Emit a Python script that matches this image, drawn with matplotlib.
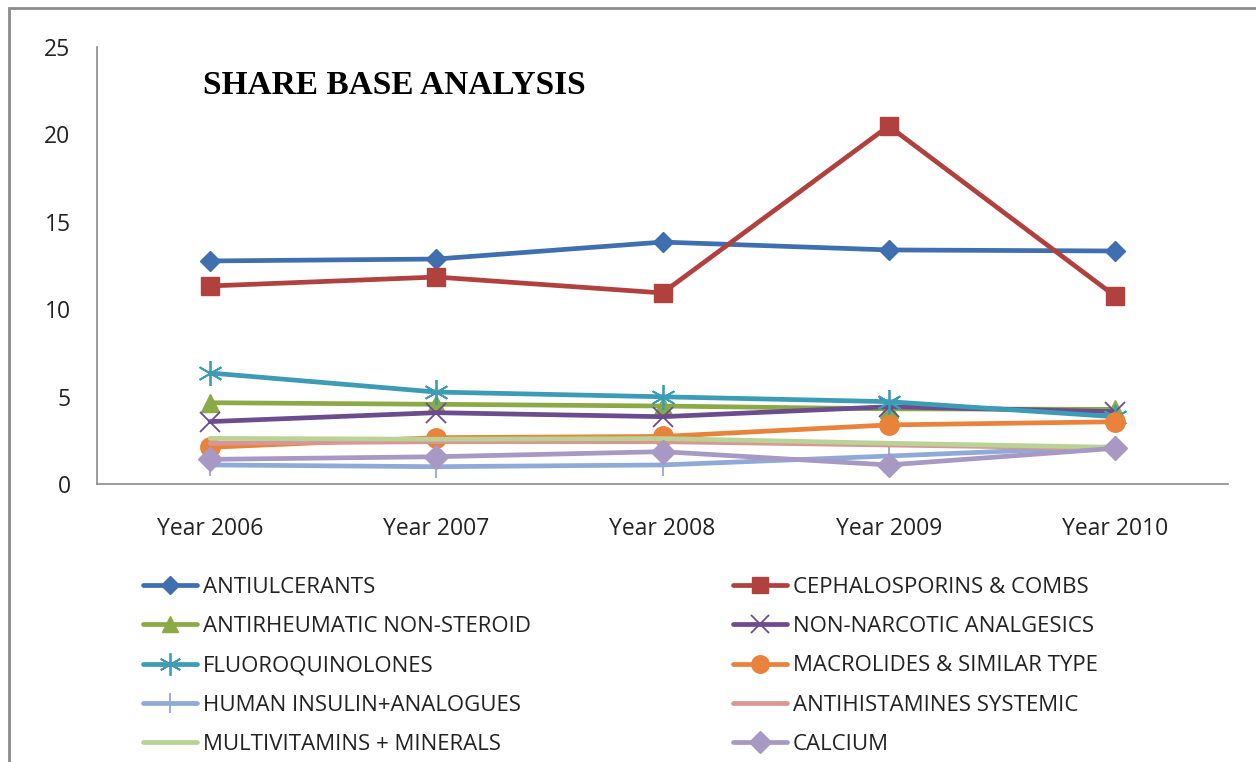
import matplotlib.pyplot as plt
import matplotlib.patches as mpatches
from matplotlib.lines import Line2D

years = ['Year 2006', 'Year 2007', 'Year 2008', 'Year 2009', 'Year 2010']

antiulcerants = [12.76, 12.87, 13.84, 13.39, 13.33]
cephalosporins = [11.33, 11.84, 10.93, 20.48, 10.76]
antirheumatic = [4.65, 4.56, 4.46, 4.30, 4.27]
non_narcotic = [3.57, 4.08, 3.85, 4.42, 4.14]
fluoroquinolones = [6.35, 5.26, 4.99, 4.71, 3.85]
macrolides = [2.10, 2.65, 2.72, 3.38, 3.56]
insulin = [1.09, 0.99, 1.09, 1.60, 2.13]
antihistamines = [2.33, 2.42, 2.42, 2.23, 2.04]
multivitamins = [2.61, 2.56, 2.60, 2.33, 2.10]
calcium = [1.41, 1.56, 1.85, 1.09, 2.04]

names = ['ANTIULCERANTS', 'CEPHALOSPORINS & COMBS', 'ANTIRHEUMATIC NON-STEROID',
         'NON-NARCOTIC ANALGESICS', 'FLUOROQUINOLONES', 'MACROLIDES & SIMILAR TYPE',
         'HUMAN INSULIN+ANALOGUES', 'ANTIHISTAMINES SYSTEMIC',
         'MULTIVITAMINS + MINERALS', 'CALCIUM']
series = [antiulcerants, cephalosporins, antirheumatic, non_narcotic, fluoroquinolones,
          macrolides, insulin, antihistamines, multivitamins, calcium]

# style per series: colour, marker, marker size, marker edge width
styles = [
    ('#3F6FAF', 'D', 10, 1),
    ('#B0413E', 's', 13, 1),
    ('#8BAA45', '^', 13, 1),
    ('#6A4C8F', 'x', 14, 1.3),
    ('#3C9BB5', (6, 2, 0), 18, 1.3),
    ('#E9823A', 'o', 14, 1),
    ('#8FAAD6', '|', 16, 1.3),
    ('#D99694', None, 0, 1),
    ('#B9D295', None, 0, 1),
    ('#A898C4', 'D', 12, 1),
]

plt.rcParams['font.family'] = ['Open Sans', 'DejaVu Sans']

fig = plt.figure(figsize=(12.56, 7.62), dpi=100)
ax = fig.add_axes([97 / 1256, 1 - 484 / 762, (1228 - 97) / 1256, (484 - 47) / 762])

x = range(len(years))
handles = []
for name, vals, (col, mk, ms, mew) in zip(names, series, styles):
    line, = ax.plot(x, vals, color=col, lw=3.4, marker=mk, markersize=ms,
                    markeredgewidth=mew, markerfacecolor=col, markeredgecolor=col,
                    solid_capstyle='round', label=name)
    handles.append(line)

ax.set_xlim(-0.5, len(years) - 0.5)
ax.set_ylim(0, 25)
ax.set_yticks([0, 5, 10, 15, 20, 25])
ax.set_xticks(list(x))
ax.set_xticklabels(years)
ax.tick_params(length=0, labelsize=16.5, colors='#222222')
ax.tick_params(axis='y', pad=19)
ax.tick_params(axis='x', pad=24)
for s in ['top', 'right']:
    ax.spines[s].set_visible(False)
for s in ['left', 'bottom']:
    ax.spines[s].set_color('#8C8C8C')
    ax.spines[s].set_linewidth(1.2)

fig.text(203 / 1256, 1 - 85 / 762, 'SHARE BASE ANALYSIS', fontsize=24, fontweight='bold',
         family='Liberation Serif', va='center')


def legend_handle(h):
    return Line2D([], [], color=h.get_color(), lw=3.4, marker=h.get_marker(),
                  markersize=h.get_markersize() * 0.9,
                  markeredgewidth=h.get_markeredgewidth(),
                  markerfacecolor=h.get_color(), markeredgecolor=h.get_color(),
                  solid_capstyle='round')


# two legend columns, placed separately
for idx, x0 in [([0, 2, 4, 6, 8], 143), ([1, 3, 5, 7, 9], 733)]:
    leg = fig.legend([legend_handle(handles[i]) for i in idx], [names[i] for i in idx],
                     loc='upper left', bbox_to_anchor=(x0 / 1256, 1 - 577 / 762),
                     frameon=False, fontsize=16, handlelength=2.45, handletextpad=0.25,
                     labelspacing=0.82, borderpad=0, borderaxespad=0)
    for t in leg.get_texts():
        t.set_color('#222222')

# outer chart border
fig.patches.append(mpatches.Rectangle((9 / 1256, -0.05), 1.1, 1 - 8 / 762 + 0.05,
                                      transform=fig.transFigure, fill=False,
                                      edgecolor='#8C8C8C', lw=2))

fig.savefig('out.png', dpi=100)
